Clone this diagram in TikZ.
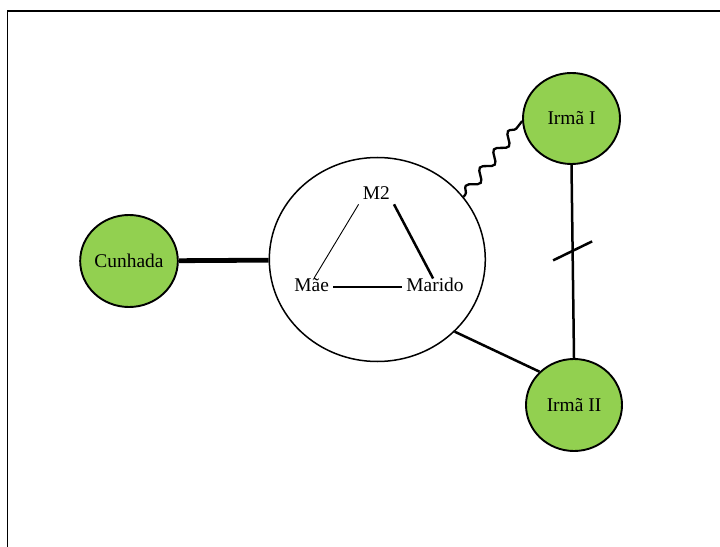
\documentclass[tikz,border=0pt]{standalone}
\usepackage{fontspec}
\setmainfont{Liberation Serif}
\usetikzlibrary{shapes.geometric,decorations.pathmorphing}
\definecolor{leaf}{HTML}{92D050}
\begin{document}
\begin{tikzpicture}[x=1bp,y=-1bp,
  every node/.style={font=\fontsize{19.5}{23}\selectfont},
  person/.style={ellipse,draw,fill=leaf,line width=1.9bp,inner sep=0pt,
    minimum width=96bp,minimum height=92bp},
  group/.style={ellipse,draw,line width=1.5bp,inner sep=0pt,
    minimum width=216bp,minimum height=204bp},
  member/.style={inner xsep=4bp,inner ysep=2bp,text height=0.7em,text depth=0.25em},
  strong/.style={line width=2.5bp},
  wavy/.style={line width=2.3bp,decorate,
    decoration={snake,segment length=23bp,amplitude=5bp,pre length=3bp,post length=3bp}}]
\useasboundingbox (0,0) rectangle (720,547);

% frame
\draw[line width=1.6bp] (7.5,547) -- (7.5,11) -- (720,11);

% people and the central group
\node[group]  (big) at (377.3,259.5) {};
\node[person] (cun) at (129,261) {Cunhada};
\node[person, minimum width=97bp, minimum height=91bp] (ir1) at (571.5,118.5) {Irmã I};
\node[person] (ir2) at (574,405) {Irmã II};

% members inside the group
\node[member] (m2)     at (376.3,197.4) {M2};
\node[member] (mae)    at (311.7,289)   {Mãe};
\node[member] (marido) at (435,289)     {Marido};

% relations between the group and the sisters
\draw[line width=4.8bp] (cun) -- (big);
\draw[wavy] (big.36) -- (ir1.183);
\draw[strong] (big.-43) -- (ir2.136);
\draw[strong] (ir1.south) -- (ir2.north) coordinate[pos=0.445] (tk);
\draw[strong] (tk) ++(-19.5,9.5) -- ++(39,-19);

% relations inside the group
\draw[line width=0.9bp, shorten >=5bp] (m2.south west) -- (mae.north);
\draw[strong, shorten >=4bp] (m2.south east) -- (marido.north);
\draw[line width=2.7bp] ([yshift=2bp]mae.east) -- ([yshift=2bp]marido.west);
\end{tikzpicture}
\end{document}
